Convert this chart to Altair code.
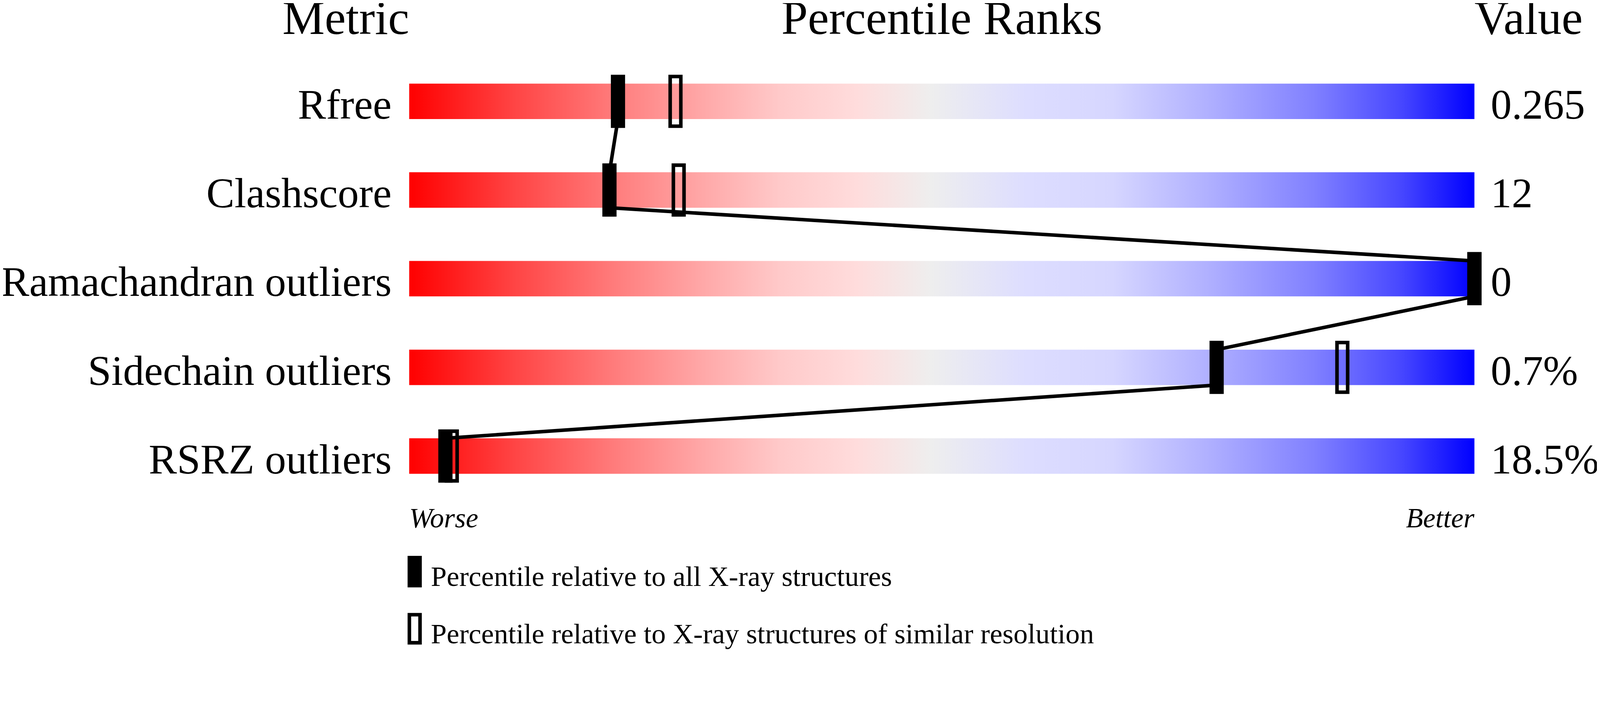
import altair as alt
import pandas as pd

# ---- data ----
metrics = ["Rfree", "Clashscore", "Ramachandran outliers", "Sidechain outliers", "RSRZ outliers"]
values = ["0.265", "12", "0", "0.7%", "18.5%"]
pct_all = [19.6, 18.8, 100.0, 75.8, 3.4]      # percentile vs all X-ray structures (filled)
pct_res = [25.0, 25.3, 100.0, 87.6, 4.0]      # percentile vs similar resolution (open)
kinds = ["Percentile relative to all X-ray structures",
         "Percentile relative to X-ray structures of similar resolution"]

FONT = "Liberation Serif"

bars_df = pd.DataFrame({"metric": metrics, "value": values,
                        "start": [0] * len(metrics), "end": [100] * len(metrics)})
all_df = pd.DataFrame({"metric": metrics, "pct": pct_all, "kind": kinds[0]})
res_df = pd.DataFrame({"metric": metrics, "pct": pct_res, "kind": kinds[1]})
seg_df = pd.DataFrame({"metric": metrics[:-1], "next": metrics[1:],
                       "x": pct_all[:-1], "x2": pct_all[1:]})
one = pd.DataFrame({"k": [0]})

gradient = {
    "gradient": "linear", "x1": 0, "x2": 1, "y1": 0, "y2": 0,
    "stops": [
        {"offset": 0.00, "color": "#ff0000"},
        {"offset": 0.10, "color": "#ff4545"},
        {"offset": 0.20, "color": "#ff8080"},
        {"offset": 0.28, "color": "#ffaaaa"},
        {"offset": 0.35, "color": "#ffcaca"},
        {"offset": 0.42, "color": "#ffdcdc"},
        {"offset": 0.49, "color": "#eeeeee"},
        {"offset": 0.58, "color": "#ddddff"},
        {"offset": 0.66, "color": "#d6d6ff"},
        {"offset": 0.75, "color": "#b0b0ff"},
        {"offset": 0.85, "color": "#8080ff"},
        {"offset": 0.93, "color": "#4848ff"},
        {"offset": 1.00, "color": "#0000ff"},
    ],
}

xscale = alt.Scale(domain=[0, 100], nice=False, zero=False)
yscale = alt.Scale(domain=metrics, paddingInner=0, paddingOuter=0)
yaxis = alt.Axis(title=None, labelFont=FONT, labelFontSize=119, labelColor="black",
                 labelPadding=50, ticks=False, tickSize=0, domain=False, grid=False,
                 labelBaseline="alphabetic", labelOffset=49, labelLimit=0, labelAlign="right")
yenc = alt.Y("metric:N", sort=metrics, scale=yscale, axis=yaxis)

marker_path = "M-0.2143,-1L0.2143,-1L0.2143,1L-0.2143,1Z"
legend_path = "M-0.38,-1.42L0.38,-1.42L0.38,0.58L-0.38,0.58Z"

fill_enc = alt.Fill(
    "kind:N",
    scale=alt.Scale(domain=kinds, range=["black", "transparent"]),
    legend=alt.Legend(title=None, orient="none", legendX=-29, legendY=1423,
                      direction="vertical", symbolType=legend_path, symbolSize=6241,
                      symbolStrokeWidth=10, symbolStrokeColor="black", symbolOpacity=1,
                      labelFont=FONT, labelFontSize=80, labelColor="black",
                      labelBaseline="middle", labelLimit=0, labelOffset=1,
                      rowPadding=41, padding=0),
)

bars = alt.Chart(bars_df).mark_bar(height=100, fill=gradient).encode(
    x=alt.X("start:Q", scale=xscale, axis=None), x2="end:Q", y=yenc)

open_marks = alt.Chart(res_df).mark_point(
    shape=marker_path, size=19600, filled=True, stroke="black", strokeWidth=10, opacity=1
).encode(x=alt.X("pct:Q", scale=xscale, axis=None), y=yenc, fill=fill_enc)

lines = alt.Chart(seg_df).mark_rule(
    color="black", strokeWidth=10, yOffset=50, y2Offset=-50, strokeCap="butt"
).encode(x=alt.X("x:Q", scale=xscale, axis=None), x2="x2:Q",
         y=yenc, y2=alt.Y2("next:N"))

filled_marks = alt.Chart(all_df).mark_point(
    shape=marker_path, size=19600, filled=True, stroke="black", strokeWidth=10, opacity=1
).encode(x=alt.X("pct:Q", scale=xscale, axis=None), y=yenc, fill=fill_enc)

value_text = alt.Chart(bars_df).mark_text(
    align="left", baseline="alphabetic", dx=46, dy=49, font=FONT, fontSize=118, color="black"
).encode(x=alt.X("end:Q", scale=xscale, axis=None), y=yenc, text="value:N")


def header(label, xpos, align):
    return alt.Chart(one).mark_text(
        text=label, align=align, baseline="alphabetic", font=FONT, fontSize=134, color="black"
    ).encode(x=alt.datum(xpos), y=alt.value(-65))


def ends(label, xpos, align):
    return alt.Chart(one).mark_text(
        text=label, align=align, baseline="alphabetic", font=FONT, fontSize=79,
        fontStyle="italic", color="black"
    ).encode(x=alt.datum(xpos), y=alt.value(1326))


chart = alt.layer(
    bars, open_marks, lines, filled_marks, value_text,
    header("Metric", 0, "right"), header("Percentile Ranks", 50, "center"),
    header("Value", 100, "left"),
    ends("Worse", 0, "left"), ends("Better", 100, "right"),
).properties(
    width=3001, height=1250,
    padding={"left": 1144, "top": 61, "right": 345, "bottom": 497},
    autosize=alt.AutoSizeParams(type="none"),
    background="white",
).configure_view(stroke=None)

chart.save("out.html", embed_options={"renderer": "svg", "actions": False})
